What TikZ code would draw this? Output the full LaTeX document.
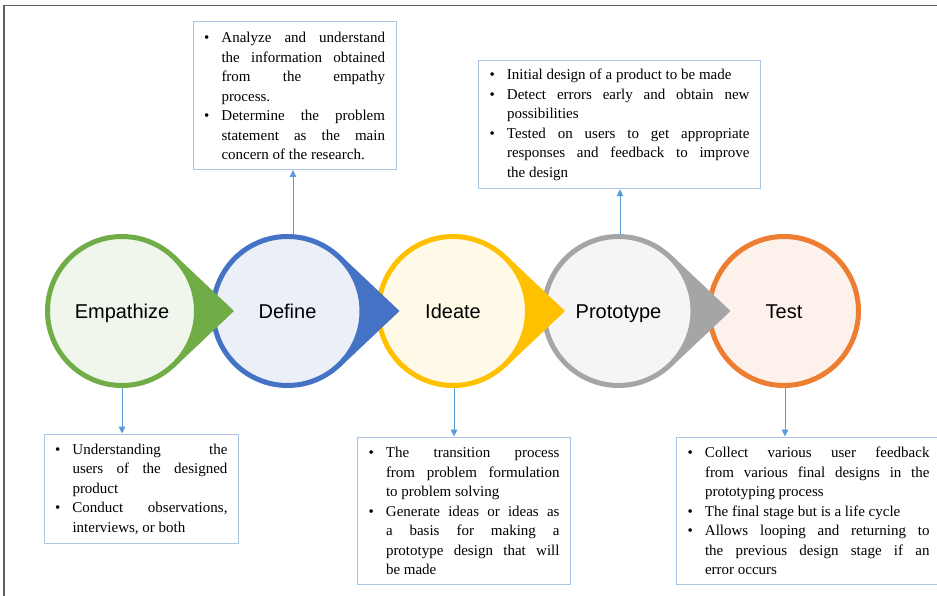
\documentclass[tikz,border=0pt]{standalone}
\usepackage{fontspec}
\setmainfont{Liberation Serif}
\newfontfamily\labfont{Liberation Sans}
\usetikzlibrary{arrows.meta,calc}
\definecolor{cgreen}{HTML}{70AD47}
\definecolor{cblue}{HTML}{4472C4}
\definecolor{cyellow}{HTML}{FFC000}
\definecolor{cgray}{HTML}{A5A5A5}
\definecolor{corange}{HTML}{ED7D31}
\definecolor{fgreen}{HTML}{F0F6EC}
\definecolor{fblue}{HTML}{EAEFF8}
\definecolor{fyellow}{HTML}{FFF9E7}
\definecolor{fgray}{HTML}{F5F5F5}
\definecolor{forange}{HTML}{FCF1EB}
\definecolor{boxcol}{HTML}{A9C5E3}
\definecolor{arrcol}{HTML}{5B9BD5}
\definecolor{framecol}{HTML}{5F5F5F}
\newcommand{\boxtext}{\fontsize{15}{19.5}\selectfont\tolerance=10000\hbadness=10000\hyphenpenalty=10000\exhyphenpenalty=10000}
\newcommand{\bul}[1]{\par\noindent\hangindent=17.5pt\hangafter=1\hbox to 17.5pt{\textbullet\hss}#1\par}
\newcommand{\boxend}{\par\kern8pt}
\begin{document}
\begin{tikzpicture}[x=1pt,y=-1pt,
  stage/.style={circle, line width=5pt, minimum size=149pt, inner sep=0pt,
    text height=14pt, text depth=0pt,
    font=\labfont\fontsize{20}{24}\selectfont},
  infobox/.style={draw=boxcol, line width=1pt, fill=white, anchor=north west,
    inner xsep=11pt, inner ysep=0pt, align=justify, font=\boxtext},
  arr/.style={draw=arrcol, line width=0.9pt, -{Triangle[width=6.5pt,length=7pt]}, arrcol}]
\useasboundingbox (0,0) rectangle (937,596);
\draw[line width=1.6pt, framecol] (945,5.5) -- (3.8,5.5) -- (3.8,605);

% stages (drawn back to front)
\node[stage, draw=corange, fill=forange] (tst) at (784,311) {Test};
\fill[cgray] (618.5+112,311) -- (618.5+52.9,311-55.9) -- (618.5+52.9,311+55.9) -- cycle;
\node[stage, draw=cgray, fill=fgray] (pro) at (618.5,311) {Prototype};
\fill[cyellow] (453+112,311) -- (453+52.9,311-55.9) -- (453+52.9,311+55.9) -- cycle;
\node[stage, draw=cyellow, fill=fyellow] (ide) at (453,311) {Ideate};
\fill[cblue] (287.5+112,311) -- (287.5+52.9,311-55.9) -- (287.5+52.9,311+55.9) -- cycle;
\node[stage, draw=cblue, fill=fblue] (def) at (287.5,311) {Define};
\fill[cgreen] (122+112,311) -- (122+52.9,311-55.9) -- (122+52.9,311+55.9) -- cycle;
\node[stage, draw=cgreen, fill=fgreen] (emp) at (122,311) {Empathize};

% boxes
\node[infobox, text width=181pt, minimum height=148pt] (dbox) at (192.5,21) {%
\bul{Analyze and understand\linebreak the information obtained\linebreak from the empathy\linebreak process.}%
\bul{Determine the problem\linebreak statement as the main\linebreak concern of the research.}\boxend};
\node[infobox, text width=260pt, minimum height=127pt] (pbox) at (478,60) {%
\bul{Initial design of a product to be made}%
\bul{Detect errors early and obtain new\linebreak possibilities}%
\bul{Tested on users to get appropriate\linebreak responses and feedback to improve\linebreak the design}\boxend};
\node[infobox, text width=172.5pt, minimum height=109pt] (ebox) at (43.5,433.5) {%
\bul{Understanding the\linebreak users of the designed\linebreak product}%
\bul{Conduct observations,\linebreak interviews, or both}\boxend};
\node[infobox, text width=191pt, minimum height=147.5pt] (ibox) at (357,436.5) {%
\bul{The transition process\linebreak from problem formulation\linebreak to problem solving}%
\bul{Generate ideas or ideas as\linebreak a basis for making a\linebreak prototype design that will\linebreak be made}\boxend};
\node[infobox, text width=242pt, minimum height=147.5pt] (tbox) at (676,436.5) {%
\bul{Collect various user feedback\linebreak from various final designs in the\linebreak prototyping process}%
\bul{The final stage but is a life cycle}%
\bul{Allows looping and returning to\linebreak the previous design stage if an\linebreak error occurs}\boxend};

% connector start points on the circles
\coordinate (da) at ($(def.north)+(5.5,0.3)$);
\coordinate (pa) at ($(pro.north)+(1.5,0)$);
\coordinate (ea) at (emp.south);
\coordinate (ia) at ($(ide.south)+(1,0)$);
\coordinate (ta) at ($(tst.south)+(1,0)$);

% connectors
\draw[arr] (da) -- (da |- dbox.south);
\draw[arr] (pa) -- (pa |- pbox.south);
\draw[arr] (ea) -- (ea |- ebox.north);
\draw[arr] (ia) -- (ia |- ibox.north);
\draw[arr] (ta) -- (ta |- tbox.north);
\end{tikzpicture}
\end{document}
